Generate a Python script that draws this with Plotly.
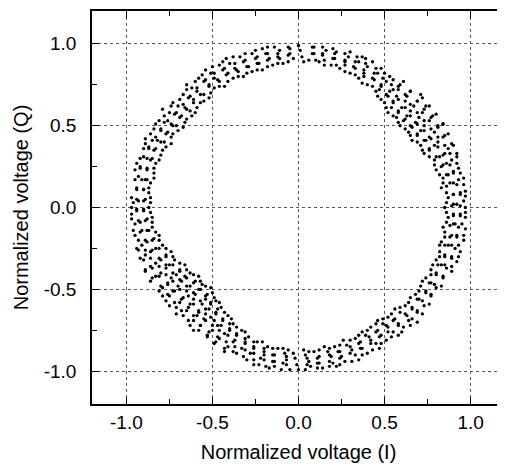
import plotly.graph_objects as go

# I/Q constellation points, one list pair per quadrant
ur_i = [0.85, 0.89, 0.92, 0.96, 0.87, 0.90, 0.94, 0.97, 0.83, 0.86, 0.90, 0.93, 0.96,
        0.84, 0.87, 0.90, 0.93, 0.80, 0.83, 0.86, 0.89, 0.92, 0.79, 0.82, 0.85, 0.87, 0.90,
        0.73, 0.76, 0.79, 0.81, 0.84, 0.87, 0.71, 0.74, 0.76, 0.79, 0.81, 0.84,
        0.66, 0.69, 0.71, 0.73, 0.76, 0.78, 0.64, 0.66, 0.68, 0.70, 0.72, 0.74,
        0.59, 0.61, 0.63, 0.65, 0.67, 0.69, 0.71, 0.57, 0.58, 0.60, 0.62, 0.63, 0.65,
        0.52, 0.54, 0.55, 0.57, 0.58, 0.59, 0.50, 0.52, 0.53, 0.54, 0.55,
        0.46, 0.47, 0.48, 0.49, 0.50, 0.43, 0.44, 0.44, 0.45, 0.37, 0.38, 0.38, 0.39, 0.39,
        0.33, 0.33, 0.33, 0.34, 0.27, 0.27, 0.27, 0.27, 0.22, 0.21, 0.21, 0.20,
        0.15, 0.15, 0.14, 0.14, 0.10, 0.09, 0.08, 0.03, 0.02, 0.01, 0.00]
ur_q = [0.00, 0.01, 0.02, 0.04, 0.06, 0.08, 0.09, 0.10, 0.12, 0.13, 0.15, 0.17, 0.18,
        0.18, 0.20, 0.22, 0.24, 0.23, 0.25, 0.27, 0.29, 0.31, 0.29, 0.31, 0.33, 0.36, 0.38,
        0.33, 0.35, 0.38, 0.40, 0.43, 0.45, 0.38, 0.41, 0.43, 0.46, 0.49, 0.51,
        0.41, 0.44, 0.47, 0.50, 0.53, 0.56, 0.46, 0.49, 0.52, 0.55, 0.58, 0.62,
        0.50, 0.53, 0.56, 0.59, 0.62, 0.65, 0.69, 0.55, 0.58, 0.61, 0.65, 0.68, 0.71,
        0.58, 0.61, 0.65, 0.68, 0.72, 0.75, 0.64, 0.68, 0.71, 0.75, 0.78,
        0.68, 0.72, 0.75, 0.79, 0.82, 0.74, 0.78, 0.82, 0.85, 0.76, 0.80, 0.84, 0.88, 0.91,
        0.81, 0.85, 0.89, 0.92, 0.83, 0.87, 0.90, 0.94, 0.87, 0.91, 0.94, 0.97,
        0.87, 0.90, 0.94, 0.98, 0.90, 0.94, 0.98, 0.89, 0.92, 0.96, 0.99]

ul_i = [-0.03, -0.05, -0.06, -0.09, -0.11, -0.12, -0.14, -0.15, -0.17, -0.19, -0.21,
        -0.21, -0.23, -0.25, -0.27, -0.27, -0.29, -0.32, -0.34, -0.32, -0.35, -0.37, -0.40, -0.42,
        -0.38, -0.41, -0.44, -0.46, -0.43, -0.46, -0.49, -0.51, -0.54, -0.49, -0.52, -0.55, -0.58,
        -0.52, -0.55, -0.59, -0.62, -0.65, -0.57, -0.61, -0.64, -0.67,
        -0.60, -0.63, -0.66, -0.70, -0.73, -0.65, -0.68, -0.72, -0.75, -0.79,
        -0.67, -0.71, -0.74, -0.78, -0.81, -0.73, -0.76, -0.80, -0.84,
        -0.74, -0.78, -0.82, -0.85, -0.89, -0.79, -0.83, -0.87, -0.90, -0.81, -0.85, -0.88, -0.92,
        -0.84, -0.88, -0.92, -0.95, -0.84, -0.88, -0.91, -0.95, -0.87, -0.90, -0.94,
        -0.86, -0.89, -0.93, -0.96]
ul_q = [0.91, 0.94, 0.98, 0.88, 0.91, 0.94, 0.98, 0.87, 0.91, 0.94, 0.97,
        0.84, 0.88, 0.91, 0.94, 0.83, 0.86, 0.89, 0.92, 0.80, 0.83, 0.85, 0.88, 0.91,
        0.79, 0.82, 0.84, 0.87, 0.74, 0.77, 0.79, 0.82, 0.84, 0.73, 0.75, 0.77, 0.79,
        0.67, 0.69, 0.71, 0.73, 0.75, 0.64, 0.66, 0.67, 0.69,
        0.58, 0.59, 0.61, 0.62, 0.64, 0.54, 0.56, 0.57, 0.58, 0.60,
        0.49, 0.50, 0.51, 0.52, 0.53, 0.45, 0.46, 0.47, 0.48,
        0.39, 0.40, 0.41, 0.41, 0.42, 0.35, 0.36, 0.36, 0.36, 0.29, 0.30, 0.30, 0.30,
        0.24, 0.24, 0.24, 0.23, 0.18, 0.17, 0.17, 0.17, 0.12, 0.11, 0.11,
        0.06, 0.05, 0.04, 0.03]

ll_i = [-0.87, -0.90, -0.94, -0.97, -0.85, -0.88, -0.92, -0.95, -0.85, -0.88, -0.92, -0.95,
        -0.81, -0.84, -0.88, -0.91, -0.94, -0.79, -0.83, -0.86, -0.89, -0.92,
        -0.74, -0.77, -0.80, -0.83, -0.86, -0.89, -0.72, -0.75, -0.77, -0.80, -0.83, -0.86,
        -0.66, -0.69, -0.71, -0.74, -0.76, -0.79, -0.81, -0.63, -0.66, -0.68, -0.70, -0.73, -0.75, -0.77,
        -0.58, -0.60, -0.63, -0.65, -0.67, -0.69, -0.71, -0.56, -0.58, -0.60, -0.61, -0.63, -0.65, -0.67,
        -0.51, -0.53, -0.54, -0.56, -0.58, -0.59, -0.61, -0.63,
        -0.49, -0.51, -0.52, -0.54, -0.55, -0.57, -0.58, -0.46, -0.47, -0.48, -0.49, -0.50, -0.52, -0.53,
        -0.43, -0.44, -0.45, -0.46, -0.47, -0.48, -0.39, -0.40, -0.40, -0.41, -0.42, -0.43,
        -0.36, -0.36, -0.37, -0.37, -0.38, -0.31, -0.31, -0.31, -0.31, -0.32,
        -0.26, -0.26, -0.26, -0.26, -0.26, -0.21, -0.20, -0.20, -0.20, -0.19,
        -0.15, -0.15, -0.14, -0.14, -0.09, -0.08, -0.07, -0.07, -0.05, -0.03, -0.02, -0.01, 0.00]
ll_q = [0.00, -0.01, -0.02, -0.04, -0.06, -0.07, -0.09, -0.10, -0.12, -0.14, -0.15, -0.17,
        -0.17, -0.19, -0.21, -0.23, -0.25, -0.23, -0.25, -0.27, -0.29, -0.31,
        -0.27, -0.29, -0.32, -0.34, -0.36, -0.39, -0.32, -0.35, -0.37, -0.40, -0.42, -0.45,
        -0.35, -0.38, -0.41, -0.43, -0.46, -0.49, -0.51, -0.40, -0.42, -0.45, -0.48, -0.51, -0.54, -0.57,
        -0.42, -0.45, -0.48, -0.51, -0.55, -0.58, -0.61, -0.47, -0.50, -0.53, -0.56, -0.59, -0.63, -0.66,
        -0.49, -0.53, -0.56, -0.59, -0.63, -0.66, -0.69, -0.72,
        -0.55, -0.58, -0.62, -0.65, -0.68, -0.72, -0.75, -0.58, -0.62, -0.65, -0.69, -0.72, -0.76, -0.79,
        -0.64, -0.68, -0.72, -0.75, -0.79, -0.82, -0.68, -0.71, -0.75, -0.78, -0.82, -0.86,
        -0.73, -0.77, -0.81, -0.85, -0.88, -0.76, -0.80, -0.83, -0.87, -0.91,
        -0.82, -0.85, -0.89, -0.93, -0.96, -0.82, -0.86, -0.90, -0.93, -0.97,
        -0.86, -0.90, -0.94, -0.97, -0.86, -0.89, -0.93, -0.96, -0.99, -0.89, -0.92, -0.96, -0.99]

lr_i = [0.03, 0.04, 0.06, 0.07, 0.09, 0.11, 0.12, 0.14, 0.15, 0.17, 0.19, 0.20, 0.22,
        0.21, 0.23, 0.25, 0.27, 0.26, 0.28, 0.31, 0.33, 0.35, 0.33, 0.35, 0.37, 0.40,
        0.37, 0.39, 0.42, 0.45, 0.47, 0.42, 0.45, 0.48, 0.51, 0.46, 0.49, 0.52, 0.55, 0.58,
        0.52, 0.55, 0.58, 0.61, 0.56, 0.59, 0.63, 0.66, 0.69, 0.62, 0.66, 0.69, 0.72,
        0.65, 0.69, 0.72, 0.76, 0.70, 0.74, 0.77, 0.72, 0.76, 0.79, 0.83, 0.77, 0.80, 0.84,
        0.78, 0.81, 0.85, 0.89, 0.82, 0.85, 0.89, 0.93, 0.82, 0.85, 0.89, 0.93,
        0.85, 0.88, 0.92, 0.96, 0.84, 0.88, 0.91, 0.95, 0.87, 0.90, 0.94, 0.97]
lr_q = [-0.87, -0.90, -0.94, -0.97, -0.88, -0.92, -0.95, -0.98, -0.85, -0.88, -0.91, -0.95, -0.97,
        -0.85, -0.88, -0.91, -0.94, -0.81, -0.84, -0.87, -0.90, -0.93, -0.80, -0.83, -0.86, -0.89,
        -0.76, -0.78, -0.81, -0.83, -0.86, -0.73, -0.76, -0.78, -0.81, -0.69, -0.71, -0.73, -0.76, -0.78,
        -0.67, -0.69, -0.71, -0.73, -0.62, -0.64, -0.66, -0.68, -0.70, -0.60, -0.62, -0.63, -0.65,
        -0.55, -0.56, -0.57, -0.59, -0.51, -0.52, -0.53, -0.45, -0.46, -0.47, -0.48, -0.41, -0.41, -0.42,
        -0.35, -0.35, -0.35, -0.36, -0.30, -0.30, -0.30, -0.30, -0.23, -0.23, -0.23, -0.23,
        -0.18, -0.18, -0.17, -0.17, -0.12, -0.11, -0.10, -0.10, -0.06, -0.05, -0.04, -0.03]

# second sweep of points, as [I, Q] pairs, lying between the stripes above
ur_pairs = [[0.86, 0.03], [0.90, 0.02], [0.94, 0.01], [0.97, 0.00], [0.86, 0.09], [0.90, 0.08],
            [0.94, 0.08], [0.97, 0.07], [0.84, 0.15], [0.88, 0.15], [0.92, 0.14], [0.96, 0.14],
            [0.82, 0.20], [0.86, 0.20], [0.90, 0.21], [0.94, 0.21], [0.79, 0.26], [0.84, 0.26],
            [0.88, 0.26], [0.92, 0.27], [0.76, 0.31], [0.80, 0.31], [0.84, 0.32], [0.88, 0.33],
            [0.92, 0.33], [0.72, 0.35], [0.76, 0.36], [0.81, 0.37], [0.85, 0.38], [0.89, 0.39],
            [0.69, 0.40], [0.73, 0.41], [0.77, 0.42], [0.81, 0.43], [0.85, 0.44], [0.65, 0.44],
            [0.69, 0.45], [0.73, 0.47], [0.77, 0.48], [0.81, 0.50], [0.84, 0.51], [0.62, 0.48],
            [0.65, 0.50], [0.69, 0.51], [0.73, 0.53], [0.77, 0.55], [0.80, 0.57], [0.58, 0.52],
            [0.62, 0.54], [0.65, 0.56], [0.69, 0.58], [0.73, 0.60], [0.76, 0.62], [0.55, 0.56],
            [0.58, 0.59], [0.62, 0.61], [0.65, 0.63], [0.69, 0.65], [0.72, 0.67], [0.51, 0.61],
            [0.55, 0.64], [0.58, 0.66], [0.62, 0.69], [0.65, 0.71], [0.48, 0.66], [0.51, 0.69],
            [0.55, 0.72], [0.58, 0.74], [0.61, 0.77], [0.45, 0.71], [0.48, 0.74], [0.51, 0.77],
            [0.53, 0.80], [0.40, 0.75], [0.43, 0.79], [0.46, 0.82], [0.48, 0.85], [0.35, 0.79],
            [0.38, 0.82], [0.40, 0.86], [0.43, 0.89], [0.30, 0.82], [0.32, 0.86], [0.35, 0.89],
            [0.37, 0.92], [0.24, 0.85], [0.27, 0.89], [0.29, 0.92], [0.30, 0.95], [0.19, 0.87],
            [0.20, 0.91], [0.22, 0.95], [0.12, 0.89], [0.14, 0.93], [0.16, 0.96], [0.06, 0.90],
            [0.08, 0.94], [0.09, 0.98]]
ul_pairs = [[-0.06, 0.89], [-0.06, 0.93], [-0.05, 0.97], [-0.12, 0.88], [-0.12, 0.92], [-0.11, 0.96],
            [-0.18, 0.86], [-0.18, 0.90], [-0.18, 0.94], [-0.18, 0.98], [-0.24, 0.84], [-0.24, 0.88],
            [-0.24, 0.92], [-0.25, 0.96], [-0.30, 0.82], [-0.30, 0.86], [-0.31, 0.90], [-0.31, 0.94],
            [-0.35, 0.80], [-0.36, 0.84], [-0.37, 0.88], [-0.38, 0.92], [-0.41, 0.77], [-0.42, 0.81],
            [-0.43, 0.85], [-0.44, 0.89], [-0.46, 0.74], [-0.47, 0.78], [-0.49, 0.82], [-0.50, 0.86],
            [-0.51, 0.70], [-0.52, 0.74], [-0.54, 0.78], [-0.56, 0.81], [-0.55, 0.65], [-0.57, 0.69],
            [-0.59, 0.73], [-0.60, 0.77], [-0.59, 0.61], [-0.61, 0.64], [-0.63, 0.68], [-0.65, 0.72],
            [-0.62, 0.56], [-0.65, 0.60], [-0.67, 0.63], [-0.69, 0.66], [-0.66, 0.52], [-0.69, 0.55],
            [-0.71, 0.58], [-0.74, 0.62], [-0.70, 0.47], [-0.73, 0.50], [-0.76, 0.53], [-0.78, 0.56],
            [-0.74, 0.43], [-0.77, 0.45], [-0.80, 0.48], [-0.83, 0.51], [-0.77, 0.37], [-0.80, 0.40],
            [-0.83, 0.43], [-0.86, 0.45], [-0.80, 0.32], [-0.84, 0.35], [-0.87, 0.37], [-0.89, 0.39],
            [-0.83, 0.27], [-0.86, 0.29], [-0.90, 0.31], [-0.84, 0.21], [-0.88, 0.23], [-0.92, 0.25],
            [-0.94, 0.27], [-0.86, 0.15], [-0.89, 0.17], [-0.93, 0.19], [-0.87, 0.09], [-0.90, 0.11],
            [-0.94, 0.12], [-0.86, 0.03], [-0.90, 0.04], [-0.94, 0.05], [-0.97, 0.06]]
ll_pairs = [[-0.86, -0.03], [-0.90, -0.02], [-0.94, -0.01], [-0.97, 0.00], [-0.85, -0.09], [-0.89, -0.08],
            [-0.93, -0.08], [-0.97, -0.07], [-0.83, -0.15], [-0.87, -0.14], [-0.91, -0.14], [-0.96, -0.14],
            [-0.81, -0.20], [-0.85, -0.20], [-0.89, -0.20], [-0.93, -0.20], [-0.77, -0.25], [-0.81, -0.25],
            [-0.85, -0.26], [-0.89, -0.26], [-0.93, -0.26], [-0.73, -0.30], [-0.77, -0.30], [-0.81, -0.31],
            [-0.86, -0.31], [-0.90, -0.32], [-0.69, -0.34], [-0.73, -0.35], [-0.77, -0.35], [-0.81, -0.36],
            [-0.85, -0.37], [-0.89, -0.38], [-0.65, -0.38], [-0.69, -0.39], [-0.73, -0.40], [-0.77, -0.41],
            [-0.81, -0.42], [-0.85, -0.43], [-0.61, -0.41], [-0.65, -0.43], [-0.69, -0.44], [-0.73, -0.45],
            [-0.76, -0.47], [-0.80, -0.48], [-0.57, -0.45], [-0.61, -0.46], [-0.65, -0.48], [-0.69, -0.50],
            [-0.72, -0.51], [-0.76, -0.53], [-0.79, -0.54], [-0.54, -0.48], [-0.57, -0.50], [-0.61, -0.52],
            [-0.64, -0.54], [-0.68, -0.56], [-0.72, -0.58], [-0.75, -0.60], [-0.50, -0.52], [-0.54, -0.54],
            [-0.57, -0.57], [-0.61, -0.59], [-0.64, -0.61], [-0.68, -0.63], [-0.71, -0.65], [-0.48, -0.57],
            [-0.51, -0.59], [-0.54, -0.62], [-0.58, -0.64], [-0.61, -0.66], [-0.64, -0.69], [-0.45, -0.61],
            [-0.48, -0.64], [-0.51, -0.67], [-0.54, -0.69], [-0.57, -0.72], [-0.61, -0.75], [-0.41, -0.66],
            [-0.44, -0.69], [-0.47, -0.72], [-0.50, -0.75], [-0.53, -0.78], [-0.38, -0.71], [-0.40, -0.74],
            [-0.43, -0.77], [-0.46, -0.80], [-0.49, -0.83], [-0.33, -0.75], [-0.36, -0.78], [-0.38, -0.82],
            [-0.41, -0.85], [-0.43, -0.88], [-0.29, -0.79], [-0.31, -0.82], [-0.33, -0.86], [-0.36, -0.89],
            [-0.24, -0.82], [-0.26, -0.86], [-0.28, -0.89], [-0.30, -0.93], [-0.18, -0.85], [-0.20, -0.88],
            [-0.22, -0.92], [-0.23, -0.96], [-0.12, -0.86], [-0.14, -0.90], [-0.15, -0.94], [-0.17, -0.98],
            [-0.06, -0.87], [-0.07, -0.91], [-0.09, -0.95], [-0.10, -0.99]]
lr_pairs = [[0.06, -0.88], [0.05, -0.92], [0.05, -0.96], [0.04, -0.99], [0.12, -0.87], [0.12, -0.91],
            [0.11, -0.95], [0.11, -0.98], [0.18, -0.86], [0.18, -0.90], [0.18, -0.94], [0.18, -0.97],
            [0.24, -0.84], [0.24, -0.88], [0.24, -0.92], [0.24, -0.96], [0.30, -0.81], [0.30, -0.85],
            [0.30, -0.89], [0.31, -0.94], [0.35, -0.78], [0.36, -0.82], [0.36, -0.86], [0.37, -0.90],
            [0.40, -0.75], [0.41, -0.79], [0.42, -0.83], [0.43, -0.87], [0.45, -0.71], [0.46, -0.75],
            [0.47, -0.79], [0.48, -0.83], [0.49, -0.68], [0.51, -0.72], [0.52, -0.76], [0.54, -0.79],
            [0.54, -0.65], [0.56, -0.68], [0.58, -0.72], [0.60, -0.76], [0.59, -0.61], [0.62, -0.65],
            [0.64, -0.69], [0.65, -0.72], [0.64, -0.58], [0.66, -0.61], [0.69, -0.64], [0.68, -0.53],
            [0.70, -0.56], [0.73, -0.60], [0.71, -0.48], [0.74, -0.51], [0.77, -0.54], [0.74, -0.43],
            [0.77, -0.46], [0.80, -0.49], [0.77, -0.38], [0.80, -0.40], [0.84, -0.43], [0.80, -0.32],
            [0.83, -0.35], [0.86, -0.37], [0.89, -0.39], [0.82, -0.27], [0.85, -0.29], [0.89, -0.31],
            [0.92, -0.33], [0.83, -0.21], [0.87, -0.23], [0.91, -0.25], [0.94, -0.27], [0.85, -0.15],
            [0.89, -0.17], [0.92, -0.18], [0.96, -0.20], [0.86, -0.09], [0.90, -0.10], [0.93, -0.12],
            [0.97, -0.13], [0.86, -0.03], [0.90, -0.04], [0.94, -0.05], [0.97, -0.06]]

tick_vals = [-1.0, -0.5, 0.0, 0.5, 1.0]
tick_text = ["-1.0", "-0.5", "0.0", "0.5", "1.0"]

pairs = ur_pairs + ul_pairs + ll_pairs + lr_pairs
i_all = ur_i + ul_i + ll_i + lr_i + [p[0] for p in pairs]
q_all = ur_q + ul_q + ll_q + lr_q + [p[1] for p in pairs]

fig = go.Figure()
fig.add_trace(go.Scatter(x=i_all, y=q_all, mode="markers",
                         marker=dict(color="black", size=3.3), showlegend=False))

font = "Liberation Sans, Arial"
axis_style = dict(range=[-1.2, 1.2], tickvals=tick_vals, ticktext=tick_text, automargin=False,
                  ticks="inside", ticklen=7, tickwidth=1.3, tickcolor="black",
                  minor=dict(dtick=0.25, tick0=0, ticks="inside", ticklen=5, tickcolor="black", showgrid=False),
                  showline=True, linecolor="black", linewidth=1.5, mirror="ticks",
                  showgrid=True, gridcolor="#555555", gridwidth=1, griddash="3px,3px",
                  zeroline=False, tickfont=dict(family=font, size=19, color="black"),
                  title_font=dict(family=font, size=20, color="black"))

fig.update_xaxes(**axis_style, title_text="Normalized voltage (I)", title_standoff=13, ticklabelstandoff=0)
fig.update_yaxes(**axis_style, title_text="Normalized voltage (Q)", title_standoff=10, ticklabelstandoff=10)

# the page body adds an 8px offset, so the figure is sized to end at the window edge
fig.update_layout(width=497, height=458, margin=dict(l=84, r=0, t=3, b=62),
                  plot_bgcolor="white", paper_bgcolor="white")

fig.write_html("out.html")
